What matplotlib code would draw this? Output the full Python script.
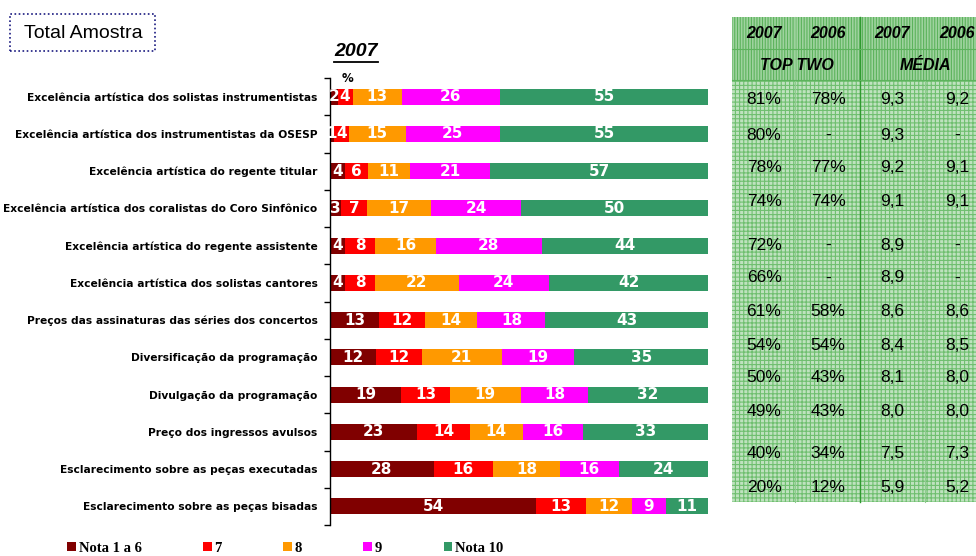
import matplotlib
matplotlib.use('Agg')
import matplotlib.pyplot as plt
from matplotlib.patches import Rectangle
from matplotlib.lines import Line2D
import numpy as np

# ---------------- data ----------------
categories = [
    'Excelência artística dos solistas instrumentistas',
    'Excelência artística dos instrumentistas da OSESP',
    'Excelência artística do regente titular',
    'Excelência artística dos coralistas do Coro Sinfônico',
    'Excelência artística do regente assistente',
    'Excelência artística dos solistas cantores',
    'Preços das assinaturas das séries dos concertos',
    'Diversificação da programação',
    'Divulgação da programação',
    'Preço dos ingressos avulsos',
    'Esclarecimento sobre as peças executadas',
    'Esclarecimento sobre as peças bisadas',
]
nota_1_6 = [2, 1, 4, 3, 4, 4, 13, 12, 19, 23, 28, 54]
nota_7 = [4, 4, 6, 7, 8, 8, 12, 12, 13, 14, 16, 13]
nota_8 = [13, 15, 11, 17, 16, 22, 14, 21, 19, 14, 18, 12]
nota_9 = [26, 25, 21, 24, 28, 24, 18, 19, 18, 16, 16, 9]
nota_10 = [55, 55, 57, 50, 44, 42, 43, 35, 32, 33, 24, 11]
series_names = ['Nota 1 a 6', '7', '8', '9', 'Nota 10']

top_two_2007 = ['81%', '80%', '78%', '74%', '72%', '66%', '61%', '54%', '50%', '49%', '40%', '20%']
top_two_2006 = ['78%', '-', '77%', '74%', '-', '-', '58%', '54%', '43%', '43%', '34%', '12%']
media_2007 = ['9,3', '9,3', '9,2', '9,1', '8,9', '8,9', '8,6', '8,4', '8,1', '8,0', '7,5', '5,9']
media_2006 = ['9,2', '-', '9,1', '9,1', '-', '-', '8,6', '8,5', '8,0', '8,0', '7,3', '5,2']
table_years = ['2007', '2006', '2007', '2006']
table_groups = ['TOP TWO', 'MÉDIA']

# ---------------- style ----------------
colors = ['#800000', '#FF0000', '#FF9900', '#FF00FF', '#339966']
W, H = 976, 556
plt.rcParams['hatch.linewidth'] = 0.8

fig = plt.figure(figsize=(W / 100, H / 100), dpi=100)

def fx(px):
    return px / W

def fy(py):
    return 1 - py / H

# ---------------- bar chart ----------------
ax = fig.add_axes([fx(330), fy(525), fx(708) - fx(330), fy(78) - fy(525)])
series = [nota_1_6, nota_7, nota_8, nota_9, nota_10]
raw = np.array(series, dtype=float)
totals = raw.sum(axis=0)
y = np.arange(len(categories))
left = np.zeros(len(categories))
handles = []
for vals, col, name in zip(raw, colors, series_names):
    w = vals / totals * 100
    cont = ax.barh(y, w, left=left, height=0.43, color=col, label=name, linewidth=0)
    ax.bar_label(cont, labels=[f'{int(v)}' for v in vals], label_type='center',
                 color='white', fontweight='bold', fontsize=11, family='DejaVu Sans')
    handles.append(cont)
    left += w

ax.set_xlim(0, 100)
ax.set_ylim(len(categories) - 0.5, -0.5)
ax.set_yticks(y)
ax.set_yticklabels(categories, fontweight='bold', fontsize=7.7, family='DejaVu Sans')
ax.tick_params(axis='y', which='major', length=0, pad=9)
ax.set_yticks(np.arange(-0.5, len(categories), 1.0), minor=True)
ax.tick_params(axis='y', which='minor', length=4, width=1, direction='out')
ax.set_xticks([])
for s in ['top', 'right', 'bottom']:
    ax.spines[s].set_visible(False)
ax.spines['left'].set_linewidth(1.0)

fig.text(fx(348), fy(79), '%', fontsize=8.5, fontweight='bold', ha='center', va='center',
         family='DejaVu Sans')

# title 2007 underlined
t = fig.text(fx(356), fy(52), '2007', fontsize=14, fontweight='bold', fontstyle='italic',
             ha='center', va='center', family='Liberation Sans')
fig.canvas.draw()
bb = t.get_window_extent()
fig.add_artist(Line2D([bb.x0 / W, bb.x1 / W], [(bb.y0 - 1) / H, (bb.y0 - 1) / H],
                      color='black', lw=1.3))

# Total Amostra box
fig.add_artist(Rectangle((fx(10), fy(51)), fx(155) - fx(10), fy(14) - fy(51),
                         fill=False, edgecolor='#1a1a80', linestyle=(0, (1, 1.5)), lw=1.2))
fig.text(fx(83), fy(33), 'Total Amostra', fontsize=14, ha='center', va='center',
         family='Liberation Sans')

# legend
fig.legend(handles=handles, labels=series_names, loc='center left',
           bbox_to_anchor=(fx(67), fy(548)), ncol=5, frameon=False,
           prop={'family': 'Liberation Serif', 'weight': 'bold', 'size': 10.5},
           handlelength=0.6, handleheight=0.6, handletextpad=0.2,
           columnspacing=4.2, borderpad=0, borderaxespad=0)

# ---------------- table ----------------
tab = fig.add_axes([0, 0, 1, 1], zorder=-1)
tab.set_xlim(0, W)
tab.set_ylim(H, 0)
tab.axis('off')
tx0, tx1, ty0, ty1, thead = 732, 976, 17, 502, 80
tab.add_patch(Rectangle((tx0, thead), tx1 - tx0, ty1 - thead, facecolor='#bfe2bf',
                        edgecolor='#6fbf6f', hatch='++++', lw=0))
tab.add_patch(Rectangle((tx0, ty0), tx1 - tx0, thead - ty0, facecolor='#9fd39f',
                        edgecolor='#5cb35c', hatch='||||||', lw=0))
tab.plot([860, 860], [ty0, ty1], color='#2f9a2f', lw=1.0)
tab.plot([795, 795], [ty0, ty1], color='#8fcb8f', lw=0.8)
tab.plot([925, 925], [ty0, ty1], color='#8fcb8f', lw=0.8)
tab.plot([tx0, tx1], [thead, thead], color='#5cb35c', lw=0.8)
tab.plot([tx0, tx1], [49, 49], color='#5cb35c', lw=0.8)

col_x = [764, 828, 892, 957]
row_y = [99, 135, 168, 202, 245, 278, 312, 345, 378, 412, 454, 487]
for cx, yr in zip(col_x, table_years):
    tab.text(cx, 33, yr, fontsize=11.5, fontweight='bold', fontstyle='italic',
             ha='center', va='center', family='Liberation Sans')
for cx, g in zip([797, 925], table_groups):
    tab.text(cx, 65, g, fontsize=11.5, fontweight='bold', fontstyle='italic',
             ha='center', va='center', family='Liberation Sans')
for cx, col in zip(col_x, [top_two_2007, top_two_2006, media_2007, media_2006]):
    for ry, v in zip(row_y, col):
        tab.text(cx, ry, v, fontsize=12.5, ha='center', va='center', family='Liberation Sans')

fig.savefig('out.png', dpi=100)
